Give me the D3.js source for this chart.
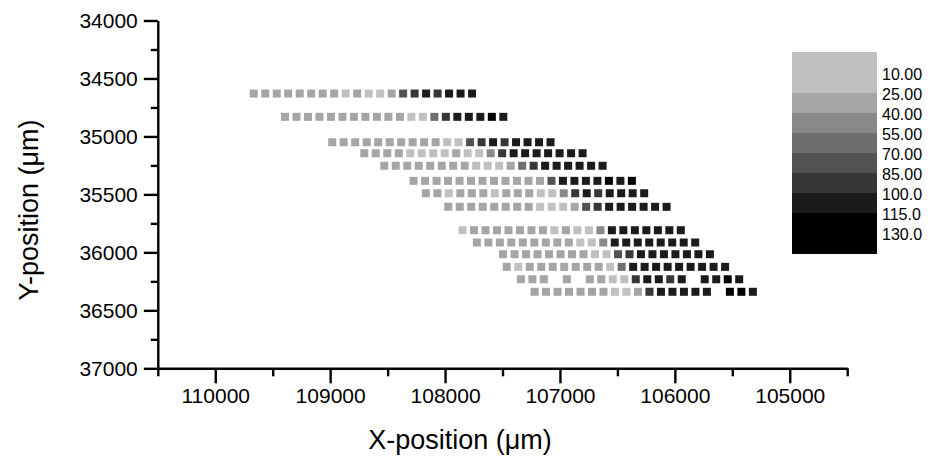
<!DOCTYPE html>
<html>
<head>
<meta charset="utf-8">
<script src="https://cdn.jsdelivr.net/npm/d3@7"></script>
<style>
  body { margin: 0; background: #fff; }
  svg { display: block; font-family: "Liberation Sans", Arial, sans-serif; }
</style>
</head>
<body>
<svg id="chart" width="931" height="474"></svg>
<script>
// Axis ticks
const xTicks = [110000, 109000, 108000, 107000, 106000, 105000];
const xMinorTicks = [110500, 109500, 108500, 107500, 106500, 105500, 104500];
const yTicks = [34000, 34500, 35000, 35500, 36000, 36500, 37000];
const yMinorTicks = [34250, 34750, 35250, 35750, 36250, 36750];

// Colour map levels and their labels
const levels = [10, 25, 40, 55, 70, 85, 100, 115, 130];
const levelLabels = ["10.00", "25.00", "40.00", "55.00", "70.00", "85.00", "100.0", "115.0", "130.0"];
const grays = ["#c0c0c0", "#a5a5a5", "#898989", "#6e6e6e", "#525252", "#373737", "#1b1b1b", "#000000"];

// Scan rows: Y position of each row, X of its first point, pitch along X (µm)
const rowY = [34630, 34831, 35050, 35145, 35253, 35383, 35490, 35607,
              35809, 35915, 36016, 36125, 36232, 36340];
const rowStartX = [109665, 109393, 108982, 108703, 108529, 108274, 108167, 107972,
                   107848, 107723, 107495, 107463, 107340, 107221];
const stepX = 100;

// Measured value at each point of each row (null = no reading)
const rowValues = [
  [30, 30, 30, 30, 30, 30, 30, 30, 15, 30, 15, 15, 30, 75, 90, 105, 90, 105, 105, 105],
  [30, 30, 30, 30, 30, 30, 30, 30, 30, 30, 30, 15, 15, 60, 90, 105, 105, 105, 125, 105],
  [30, 30, 30, 30, 30, 30, 30, 30, 30, 30, 15, 15, 75, 90, 105, 90, 105, 105, 105, 105],
  [30, 30, 30, 30, 15, 15, 15, 15, 30, 15, 15, 45, 90, 105, 105, 105, 105, 105, 105, 105],
  [30, 30, 30, 30, 30, 30, 30, 30, 15, 15, 15, 30, 60, 90, 105, 105, 105, 105, 105, 105],
  [30, 30, 30, 30, 30, 30, 30, 30, 30, 30, 30, 30, 75, 105, 105, 105, 105, 125, 105, 125],
  [30, 30, 15, 30, 30, 30, 15, 30, 30, 30, 15, 15, 45, 90, 105, 90, 105, 105, 105, 105],
  [30, 30, 30, 30, 30, 30, 30, 30, 15, 15, 15, 30, 75, 90, 105, 105, 105, 105, 105, 105],
  [15, 30, 30, 30, 30, 30, 30, 30, 15, 30, 15, 15, 45, 105, 105, 105, 105, 105, 105, 105],
  [30, 30, 30, 30, 30, 30, 30, 30, 30, 15, 15, 45, 105, 105, 105, 105, 105, 105, 105, 105],
  [30, 30, 30, 30, 30, 30, 30, 30, 15, 15, 75, 90, 105, 105, 105, 105, 105, 105, 105],
  [30, 15, 30, 30, 30, 30, 30, 30, 30, 15, 60, 105, 105, 105, 105, 105, 105, 105, 105, 105],
  [30, 30, 30, null, 30, null, 30, 30, 15, 15, 90, 105, 105, 90, 105, null, 105, 105, 125, 105],
  [30, 30, 30, 30, 30, 30, 30, 15, 15, 30, 90, 105, 105, 105, 105, 105, null, 125, 125, 105]
];

// Flatten rows into points
const points = [];
rowValues.forEach((vals, r) => {
  vals.forEach((v, i) => {
    if (v !== null) points.push({ x: rowStartX[r] - i * stepX, y: rowY[r], v: v });
  });
});

const svg = d3.select("#chart");

const x = d3.scaleLinear().domain([110500, 104500]).range([157.8, 847.2]);
const y = d3.scaleLinear().domain([34000, 37000]).range([20.5, 368.3]);
const color = d3.scaleThreshold().domain(levels.slice(1, -1)).range(grays);

const cell = 8;

// Data cells
svg.append("g")
  .selectAll("rect")
  .data(points)
  .join("rect")
  .attr("x", d => x(d.x) - cell / 2)
  .attr("y", d => y(d.y) - cell / 2)
  .attr("width", cell)
  .attr("height", cell)
  .attr("fill", d => color(d.v));

const axisStroke = 2.4;
const yBase = y(37000);
const xBase = x(110500);

function styleAxis(g, fontSize) {
  g.selectAll("path.domain").attr("stroke", "#000").attr("stroke-width", axisStroke);
  g.selectAll(".tick line").attr("stroke", "#000").attr("stroke-width", axisStroke);
  g.selectAll(".tick text").attr("fill", "#000").style("font-size", fontSize + "px");
}

// X axis
svg.append("g")
  .attr("transform", `translate(0,${yBase})`)
  .call(d3.axisBottom(x).tickValues(xMinorTicks).tickSize(8).tickSizeOuter(0).tickFormat(""))
  .call(g => styleAxis(g, 21));
svg.append("g")
  .attr("transform", `translate(0,${yBase})`)
  .call(d3.axisBottom(x).tickValues(xTicks).tickSize(15).tickSizeOuter(0).tickPadding(5).tickFormat(d3.format("d")))
  .call(g => styleAxis(g, 21))
  .call(g => g.select("path.domain").remove());

// Y axis
svg.append("g")
  .attr("transform", `translate(${xBase},0)`)
  .call(d3.axisLeft(y).tickValues(yMinorTicks).tickSize(7).tickSizeOuter(0).tickFormat(""))
  .call(g => styleAxis(g, 21));
svg.append("g")
  .attr("transform", `translate(${xBase},0)`)
  .call(d3.axisLeft(y).tickValues(yTicks).tickSize(14).tickSizeOuter(0).tickPadding(6).tickFormat(d3.format("d")))
  .call(g => styleAxis(g, 21))
  .call(g => g.select("path.domain").remove());

// Axis titles
svg.append("text")
  .attr("x", 460)
  .attr("y", 449)
  .attr("text-anchor", "middle")
  .style("font-size", "27px")
  .text("X-position (\u03bcm)");

svg.append("text")
  .attr("transform", "translate(38,210) rotate(-90)")
  .attr("text-anchor", "middle")
  .style("font-size", "27px")
  .text("Y-position (\u03bcm)");

// Colour scale legend
const ly = d3.scaleLinear().domain([10, 130]).range([72.7, 232.7]);
const legX = 792, legW = 85;
const edges = [ly(10) - 21, ...levels.slice(1, -1).map(ly), ly(130) + 21];
const legend = svg.append("g");
legend.selectAll("rect")
  .data(grays)
  .join("rect")
  .attr("x", legX)
  .attr("y", (d, i) => edges[i])
  .attr("width", legW)
  .attr("height", (d, i) => edges[i + 1] - edges[i])
  .attr("fill", d => d)
  .attr("shape-rendering", "crispEdges");
legend.selectAll("text")
  .data(levels)
  .join("text")
  .attr("x", 882)
  .attr("y", d => ly(d) + 2)
  .attr("dy", "0.35em")
  .style("font-size", "16px")
  .text((d, i) => levelLabels[i]);
</script>
</body>
</html>
